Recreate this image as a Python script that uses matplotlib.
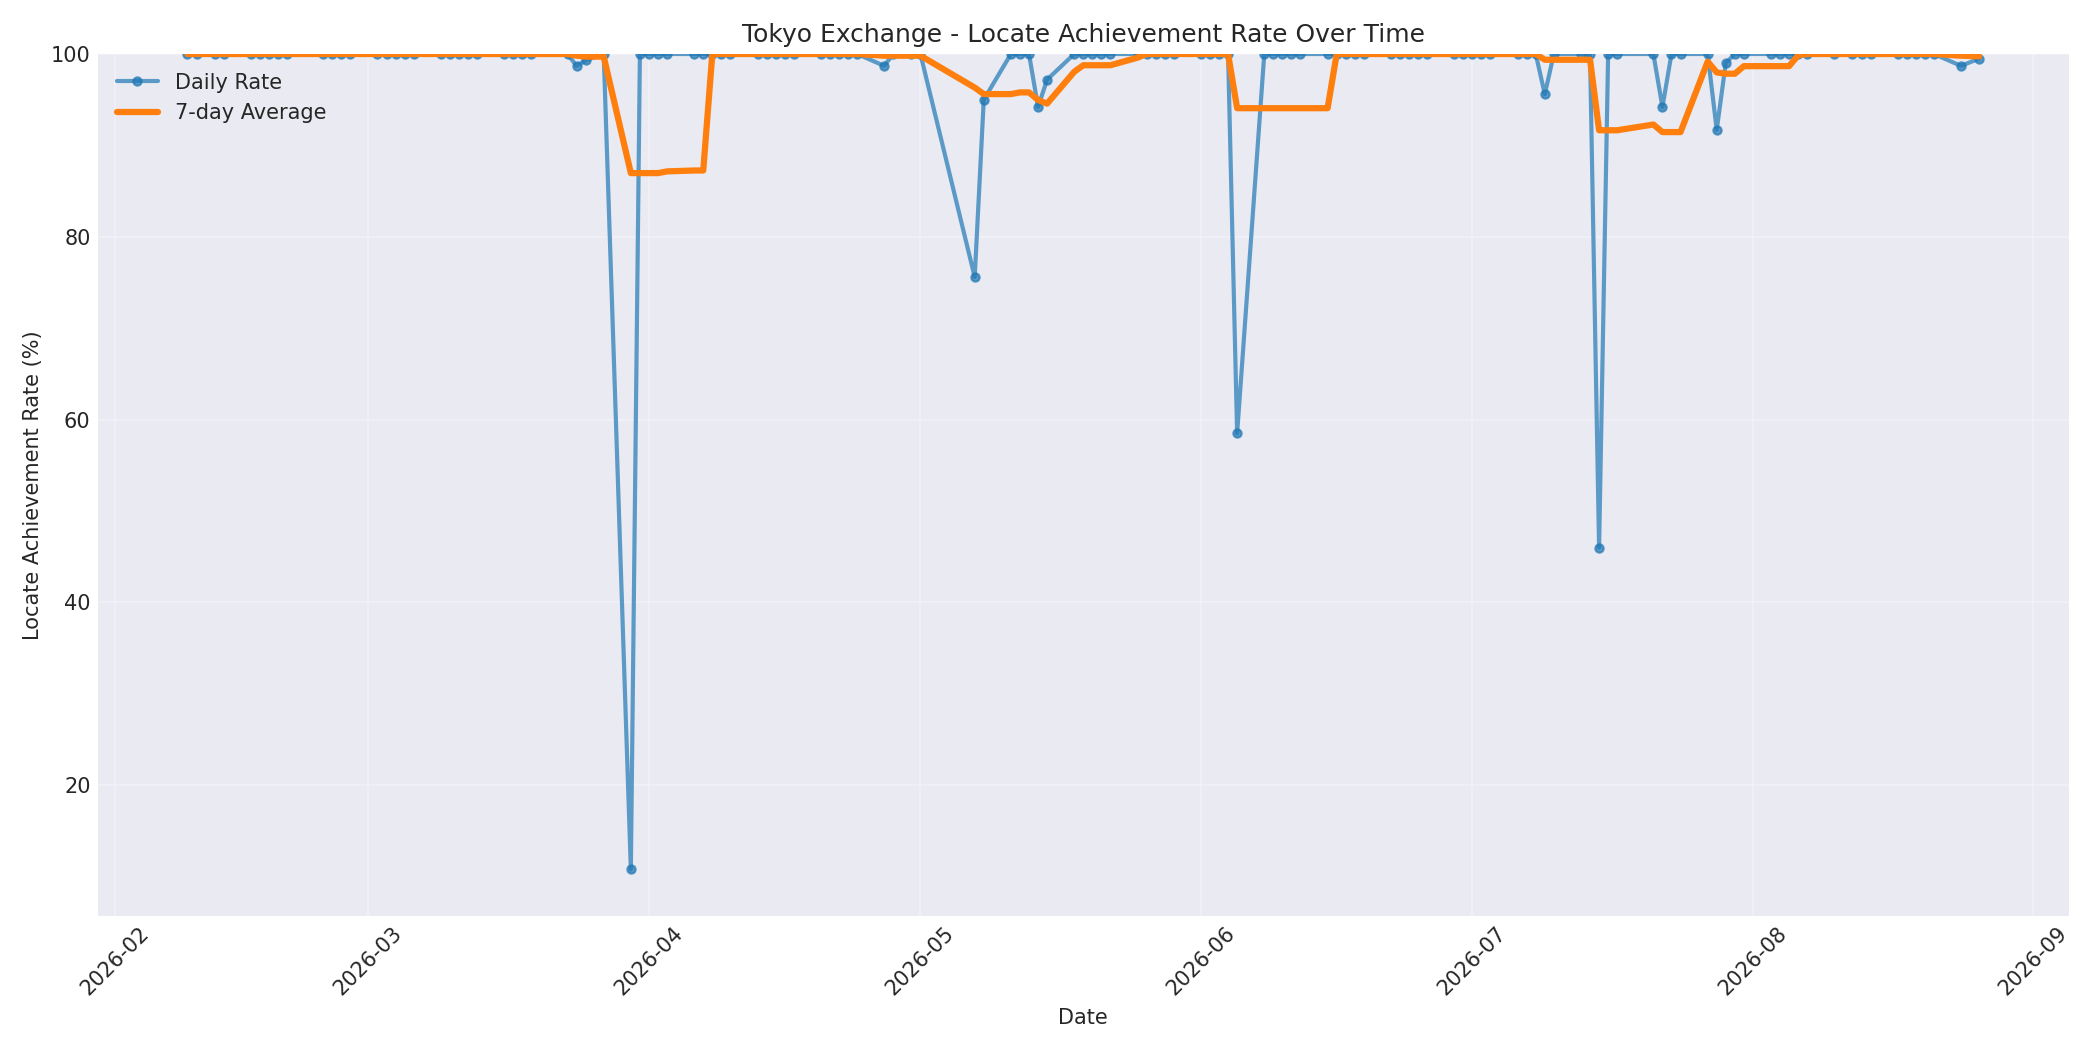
import matplotlib
matplotlib.use("Agg")
import matplotlib.pyplot as plt
import pandas as pd

# trading days (day of month) and daily locate achievement rate (%)
feb_days = [9, 10, 12, 13, 16, 17, 18, 19, 20, 24, 25, 26, 27]
feb_rates = [100, 100, 100, 100, 100, 100, 100, 100, 100, 100, 100, 100, 100]

mar_days = [2, 3, 4, 5, 6, 9, 10, 11, 12, 13, 16, 17, 18, 19, 23, 24, 25, 27, 30, 31]
mar_rates = [100, 100, 100, 100, 100, 100, 100, 100, 100, 100, 100, 100, 100, 100,
             100, 98.7, 99.3, 100, 10.8, 100]

apr_days = [1, 2, 3, 6, 7, 8, 9, 10, 13, 14, 15, 16, 17, 20, 21, 22, 23, 24, 27, 28, 30]
apr_rates = [100, 100, 100, 100, 100, 100, 100, 100, 100, 100, 100, 100, 100, 100,
             100, 100, 100, 100, 98.7, 100, 100]

may_days = [1, 7, 8, 11, 12, 13, 14, 15, 18, 19, 20, 21, 22, 25, 26, 27, 28, 29]
may_rates = [100, 75.6, 95.0, 100, 100, 100, 94.2, 97.2, 100, 100, 100, 100, 100,
             100, 100, 100, 100, 100]

jun_days = [1, 2, 3, 4, 5, 8, 9, 10, 11, 12, 15, 16, 17, 18, 19, 22, 23, 24, 25, 26, 29, 30]
jun_rates = [100, 100, 100, 100, 58.5, 100, 100, 100, 100, 100, 100, 100, 100, 100,
             100, 100, 100, 100, 100, 100, 100, 100]

jul_days = [1, 2, 3, 6, 7, 8, 9, 10, 13, 14, 15, 16, 17, 21, 22, 23, 24, 27, 28, 29, 30, 31]
jul_rates = [100, 100, 100, 100, 100, 100, 95.6, 100, 100, 100, 46.0, 100, 100, 100,
             94.2, 100, 100, 100, 91.7, 99.0, 100, 100]

aug_days = [3, 4, 5, 6, 7, 10, 12, 13, 14, 17, 18, 19, 20, 21, 24, 26]
aug_rates = [100, 100, 100, 100, 100, 100, 100, 100, 100, 100, 100, 100, 100, 100,
             98.7, 99.5]

#-------build series-------
months = [(2, feb_days, feb_rates), (3, mar_days, mar_rates), (4, apr_days, apr_rates),
          (5, may_days, may_rates), (6, jun_days, jun_rates), (7, jul_days, jul_rates),
          (8, aug_days, aug_rates)]
dates = []
rates = []
for m, days, vals in months:
    dates += [pd.Timestamp(2026, m, d) for d in days]
    rates += vals
df = pd.DataFrame({"rate": rates}, index=pd.DatetimeIndex(dates))
df["avg7"] = df["rate"].rolling(7, min_periods=1).mean()

#-------plot-------
plt.style.use("seaborn-v0_8-darkgrid")
plt.rcParams["font.family"] = ["DejaVu Sans"]
fig, ax = plt.subplots(figsize=(14, 7), dpi=150)

ax.plot(df.index, df["rate"], marker="o", markersize=4, linewidth=2,
        alpha=0.7, color="#1f77b4", label="Daily Rate")
ax.plot(df.index, df["avg7"], linewidth=3, color="#ff7f0e", label="7-day Average")

ax.set_title("Tokyo Exchange - Locate Achievement Rate Over Time")
ax.set_xlabel("Date")
ax.set_ylabel("Locate Achievement Rate (%)")
ax.set_ylim(5.7, 100)
ax.grid(True, alpha=0.3)
ax.legend(loc="upper left")
plt.setp(ax.get_xticklabels(), rotation=45)

fig.tight_layout()
fig.savefig("out.png")
